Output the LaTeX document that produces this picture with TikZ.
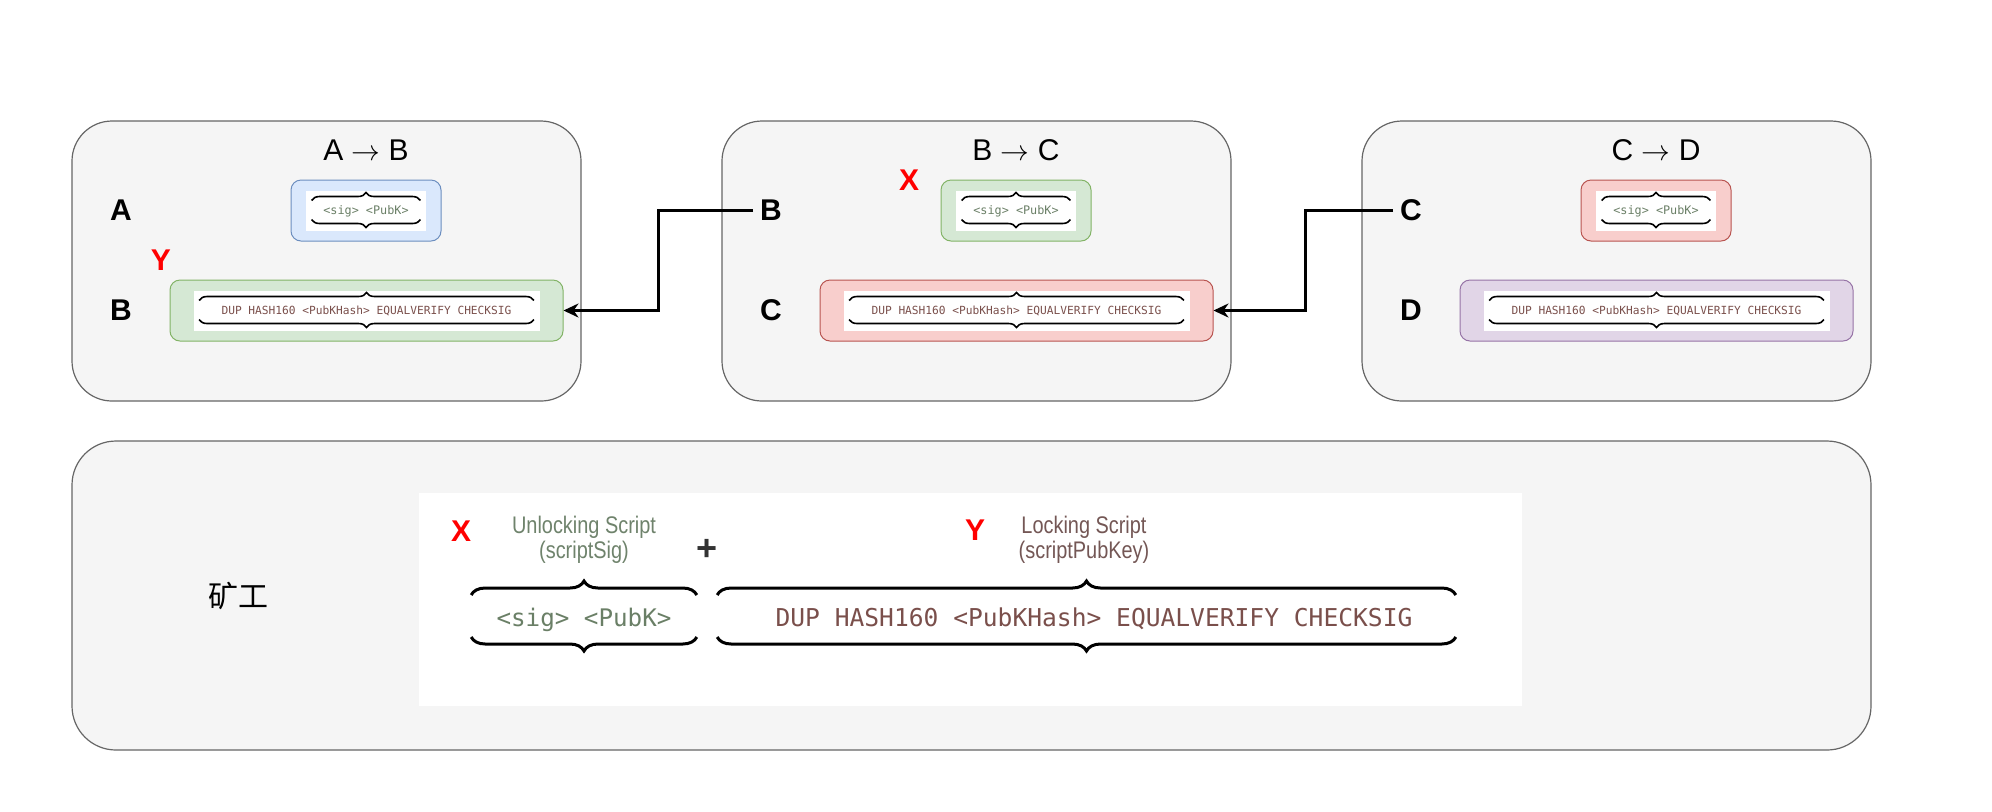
\documentclass[tikz,border=0pt]{standalone}
\usepackage{fontspec}
\setmainfont{Liberation Sans}
\newfontfamily\codefont{DejaVu Sans Mono}
\newfontfamily\capfont[FakeStretch=0.83]{Liberation Sans}
\newfontfamily\cjkfont{Noto Sans CJK SC}
\usepackage{tikz}
\usetikzlibrary{arrows.meta,positioning,decorations.pathreplacing}
\definecolor{panelfill}{HTML}{F5F5F5}
\definecolor{panelline}{HTML}{666666}
\definecolor{bluefill}{HTML}{DAE8FC}
\definecolor{blueline}{HTML}{6C8EBF}
\definecolor{greenfill}{HTML}{D5E8D4}
\definecolor{greenline}{HTML}{82B366}
\definecolor{redfill}{HTML}{F8CECC}
\definecolor{redline}{HTML}{B85450}
\definecolor{purplefill}{HTML}{E1D5E7}
\definecolor{purpleline}{HTML}{9673A6}
\definecolor{sigtext}{HTML}{6A7F66}
\definecolor{locktext}{HTML}{7A4F4B}
\definecolor{unlockcap}{HTML}{6F836C}
\definecolor{lockcap}{HTML}{745755}
\definecolor{markred}{HTML}{FF0000}

\begin{document}
\begin{tikzpicture}[x=0.5pt,y=-0.5pt,
  panel/.style={draw=panelline,fill=panelfill,line width=0.6pt,rounded corners=20pt,
    minimum width=254.5pt,minimum height=140pt},
  keybox/.style={line width=0.5pt,rounded corners=5pt,minimum width=75pt,minimum height=30.5pt},
  lockbox/.style={keybox,minimum width=196.5pt},
  shot/.style={fill=white,inner sep=0pt,minimum height=20pt},
  who/.style={font=\fontsize{15}{18}\selectfont\bfseries},
  title/.style={font=\fontsize{15}{18}\selectfont},
  redmark/.style={text=markred,font=\fontsize{15}{18}\selectfont\bfseries},
  caption/.style={font=\capfont\fontsize{12}{12.5}\selectfont,align=center,inner sep=0pt},
  code/.style={font=\codefont\fontsize{#1}{#1}\selectfont,inner sep=0pt,text depth=0pt},
  sigtxt/.style={code=#1,text=sigtext},
  locktxt/.style={code=#1,text=locktext},
  curly/.style={decorate,decoration={brace,amplitude=#1},line width=0.8pt},
  link/.style={-{Stealth[length=7.5pt,width=7pt]},line width=1.5pt}
]
\useasboundingbox (0,0) rectangle (1992,811);

\foreach \i/\x/\src/\dst/\kf/\kd/\lf/\ld in {
    1/72/A/B/bluefill/blueline/greenfill/greenline,
    2/722/B/C/greenfill/greenline/redfill/redline,
    3/1362/C/D/redfill/redline/purplefill/purpleline}{
  \node[panel] (pan\i) at (\x+254.5,261) {};
  \node[title] (ttl\i) at (\x+294,150) {\src\ $\rightarrow$ \dst};
  \node[who] (up\i) at (\x+49,210) {\src};
  \node[who] (down\i) at (\x+49,310) {\dst};
  \node[keybox,fill=\kf,draw=\kd] (key\i) at (\x+294,210.5) {};
  \node[shot,sigtxt=5.9pt,minimum width=60pt] (sig\i) at (key\i) {<sig> <PubK>};
  \draw[curly=4pt] ([shift={(6,-10)}]sig\i.west) -- ([shift={(-6,-10)}]sig\i.east);
  \draw[curly=4pt] ([shift={(-6,9)}]sig\i.east) -- ([shift={(6,9)}]sig\i.west);
  \node[lockbox,fill=\lf,draw=\ld] (lock\i) at (\x+294.5,310.5) {};
  \node[shot,locktxt=5.6pt,minimum width=173pt] (pkh\i) at (lock\i) {DUP HASH160 <PubKHash> EQUALVERIFY CHECKSIG};
  \draw[curly=4pt] ([shift={(6,-10)}]pkh\i.west) -- ([shift={(-6,-10)}]pkh\i.east);
  \draw[curly=4pt] ([shift={(-6,9)}]pkh\i.east) -- ([shift={(6,9)}]pkh\i.west);
}
\node[redmark] (y1) at (161,260) {Y};
\node[redmark] (x2) at (909,180) {X};

\draw[link] (up2.west) -- ++(-95,0) |- (lock1.east);
\draw[link] (up3.west) -- ++(-88,0) |- (lock2.east);

\node[panel,rounded corners=22pt,minimum width=899.5pt,minimum height=154.5pt] (minerpan) at (971.5,595.5) {};
\node[font=\cjkfont\fontsize{15}{18}\selectfont] (miner) at (238,596) {矿工};
\node[fill=white,inner sep=0pt,minimum width=551.5pt,minimum height=106.5pt] (photo) at (970.5,599.5) {};
\node[redmark] (xmark) at (461,531) {X};
\node[redmark] (ymark) at (975,530) {Y};
\node[caption,text=unlockcap] (unlock) at (584,540) {Unlocking Script\\(scriptSig)};
\node[font=\fontsize{18}{18}\selectfont\bfseries,text=black!80] (plus) at (707,550) {+};
\node[caption,text=lockcap] (locking) at (1084,540) {Locking Script\\(scriptPubKey)};
\node[sigtxt=12.1pt] (sigbig) at (584,617) {<sig> <PubK>};
\node[locktxt=12.3pt] (pkhbig) at (1094,617) {DUP HASH160 <PubKHash> EQUALVERIFY CHECKSIG};
\draw[curly=7pt,line width=1.5pt] ([shift={(-25,-22)}]sigbig.west) -- ([shift={(25,-22)}]sigbig.east);
\draw[curly=7pt,line width=1.5pt] ([shift={(25,20)}]sigbig.east) -- ([shift={(-25,20)}]sigbig.west);
\draw[curly=7pt,line width=1.5pt] ([shift={(-58,-22)}]pkhbig.west) -- ([shift={(43,-22)}]pkhbig.east);
\draw[curly=7pt,line width=1.5pt] ([shift={(43,20)}]pkhbig.east) -- ([shift={(-58,20)}]pkhbig.west);
\end{tikzpicture}
\end{document}
